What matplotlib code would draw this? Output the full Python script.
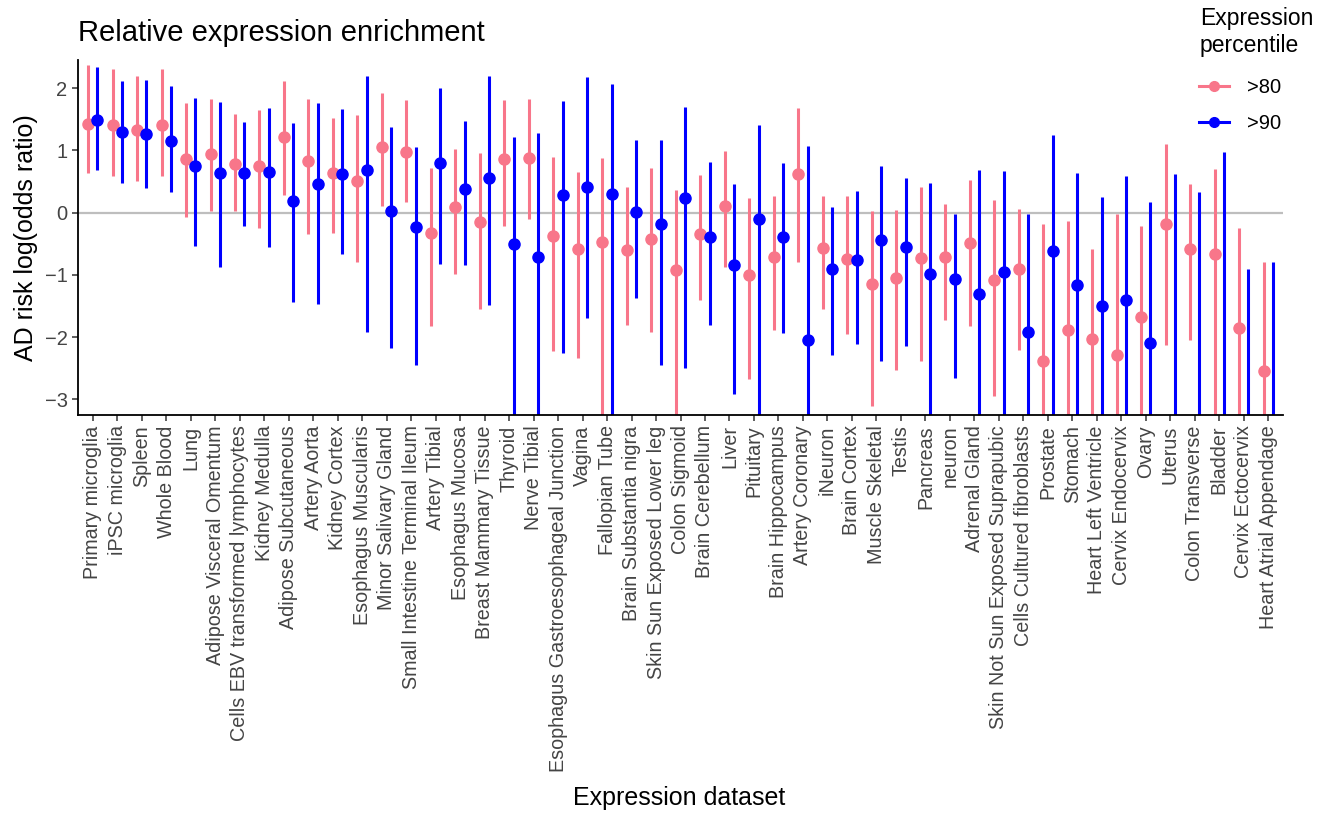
import matplotlib
matplotlib.use("Agg")
import matplotlib.pyplot as plt
from matplotlib.lines import Line2D
import numpy as np

plt.rcParams['font.family'] = ['Liberation Sans', 'DejaVu Sans']

categories = ["Primary microglia", "iPSC microglia", "Spleen", "Whole Blood", "Lung",
    "Adipose Visceral Omentum", "Cells EBV transformed lymphocytes", "Kidney Medulla",
    "Adipose Subcutaneous", "Artery Aorta", "Kidney Cortex", "Esophagus Muscularis",
    "Minor Salivary Gland", "Small Intestine Terminal Ileum", "Artery Tibial",
    "Esophagus Mucosa", "Breast Mammary Tissue", "Thyroid", "Nerve Tibial",
    "Esophagus Gastroesophageal Junction", "Vagina", "Fallopian Tube",
    "Brain Substantia nigra", "Skin Sun Exposed Lower leg", "Colon Sigmoid",
    "Brain Cerebellum", "Liver", "Pituitary", "Brain Hippocampus", "Artery Coronary",
    "iNeuron", "Brain Cortex", "Muscle Skeletal", "Testis", "Pancreas", "neuron",
    "Adrenal Gland", "Skin Not Sun Exposed Suprapubic", "Cells Cultured fibroblasts",
    "Prostate", "Stomach", "Heart Left Ventricle", "Cervix Endocervix", "Ovary",
    "Uterus", "Colon Transverse", "Bladder", "Cervix Ectocervix", "Heart Atrial Appendage"]

# >80 percentile
p80_est = [1.43, 1.41, 1.32, 1.40, 0.86, 0.94, 0.78, 0.74, 1.21, 0.83, 0.64, 0.50,
           1.05, 0.98, -0.33, 0.09, -0.15, 0.86, 0.87, -0.37, -0.58, -0.48, -0.60, -0.42,
           -0.92, -0.35, 0.10, -1.01, -0.72, 0.62, -0.57, -0.74, -1.15, -1.05, -0.73, -0.72,
           -0.49, -1.08, -0.91, -2.39, -1.89, -2.03, -2.29, -1.67, -0.18, -0.58, -0.67,
           -1.85, -2.54]
p80_hi = [2.37, 2.30, 2.19, 2.30, 1.76, 1.83, 1.59, 1.64, 2.11, 1.82, 1.52, 1.56,
          1.92, 1.80, 0.71, 1.02, 0.95, 1.80, 1.82, 0.89, 0.65, 0.87, 0.41, 0.72,
          0.37, 0.60, 0.99, 0.24, 0.27, 1.68, 0.27, 0.26, 0.03, 0.04, 0.41, 0.14,
          0.53, 0.20, 0.06, -0.18, -0.14, -0.59, -0.03, -0.22, 1.10, 0.46, 0.70,
          -0.25, -0.80]
p80_lo = [0.63, 0.59, 0.50, 0.59, -0.07, 0.02, 0.02, -0.25, 0.29, -0.35, -0.32, -0.80,
          0.10, 0.17, -1.82, -0.98, -1.54, -0.22, -0.10, -2.22, -2.34, -3.80, -1.81, -1.92,
          -3.80, -1.41, -0.88, -2.67, -1.89, -0.79, -1.54, -1.95, -3.11, -2.53, -2.38, -1.72,
          -1.82, -2.94, -2.20, -3.80, -3.80, -3.80, -3.80, -3.80, -2.12, -2.05, -3.80,
          -3.80, -3.80]

# >90 percentile
p90_est = [1.49, 1.29, 1.26, 1.15, 0.74, 0.63, 0.64, 0.65, 0.18, 0.46, 0.62, 0.68,
           0.02, -0.23, 0.80, 0.38, 0.55, -0.51, -0.71, 0.28, 0.41, 0.30, 0.01, -0.18,
           0.24, -0.39, -0.84, -0.11, -0.40, -2.04, -0.91, -0.76, -0.44, -0.55, -0.98, -1.06,
           -1.31, -0.95, -1.92, -0.62, -1.16, -1.50, -1.41, -2.09, -3.60, -3.60, -3.60,
           -3.60, -3.60]
p90_hi = [2.34, 2.11, 2.13, 2.03, 1.84, 1.78, 1.45, 1.68, 1.44, 1.76, 1.67, 2.20,
          1.37, 1.05, 2.00, 1.47, 2.19, 1.22, 1.28, 1.79, 2.18, 2.07, 1.16, 1.17,
          1.70, 0.81, 0.46, 1.40, 0.80, 1.07, 0.09, 0.34, 0.74, 0.56, 0.47, -0.02,
          0.68, 0.67, -0.03, 1.24, 0.64, 0.25, 0.58, 0.17, 0.62, 0.33, 0.98,
          -0.91, -0.79]
p90_lo = [0.68, 0.48, 0.40, 0.33, -0.53, -0.88, -0.22, -0.55, -1.43, -1.46, -0.66, -1.91,
          -2.17, -2.44, -0.82, -0.84, -1.48, -3.80, -3.80, -2.25, -1.69, -3.80, -1.37, -2.44,
          -2.49, -1.80, -2.91, -3.80, -1.93, -3.80, -2.29, -2.11, -2.39, -2.14, -3.80, -2.65,
          -3.80, -3.80, -3.80, -3.80, -3.80, -3.80, -3.80, -3.80, -3.80, -3.80, -3.80,
          -3.80, -3.80]

series = [(">80", "#F8768A", p80_est, p80_lo, p80_hi, -0.19),
          (">90", "#0000FF", p90_est, p90_lo, p90_hi, 0.19)]

fig = plt.figure(figsize=(13.29, 8.14), dpi=100)
ax = fig.add_axes([78/1329, 1-415/814, (1283-78)/1329, (415-60)/814])

x = np.arange(len(categories))
ax.axhline(0, color="#BEBEBE", lw=1.6, zorder=1)
for name, col, est, lo, hi, off in series:
    est = np.array(est); lo = np.array(lo); hi = np.array(hi)
    ax.vlines(x + off, lo, hi, color=col, lw=2.2, zorder=2)
    ax.plot(x + off, est, 'o', color=col, ms=8, zorder=3)

ax.set_xlim(-0.6, len(categories) - 0.4)
ax.set_ylim(-3.25, 2.45)
ax.set_yticks([-3, -2, -1, 0, 1, 2])
ax.set_xticks(x)
ax.set_xticklabels(categories, rotation=90, fontsize=14.2, color="#444444")
ax.tick_params(axis='y', labelsize=14.5, labelcolor="#444444")
ax.tick_params(axis='both', color="#333333", length=4.5, width=1.1, pad=3)
for s in ["top", "right"]:
    ax.spines[s].set_visible(False)
for s in ["left", "bottom"]:
    ax.spines[s].set_linewidth(1.3)

ax.set_ylabel("AD risk log(odds ratio)", fontsize=18, labelpad=5)
fig.text(679/1329, 1-798/814, "Expression dataset", fontsize=18, ha="center", va="center")
fig.text(78/1329, 1-33/814, "Relative expression enrichment", fontsize=21, ha="left", va="center")

# legend title and entries
fig.text(1200/1329, 1-32/814, "Expression\npercentile", fontsize=16.5, ha="left",
         va="center", linespacing=1.2)
handles = [Line2D([0], [0], color=c, lw=2.2, marker='o', ms=7) for _, c, *_ in series]
leg = fig.legend(handles, [s[0] for s in series],
                 loc="upper left", bbox_to_anchor=(1187/1329, 1-66/814), frameon=False,
                 fontsize=14.5, handlelength=1.5, handletextpad=0.9,
                 labelspacing=0.85, borderaxespad=0.2)

fig.savefig("out.png", dpi=100)
